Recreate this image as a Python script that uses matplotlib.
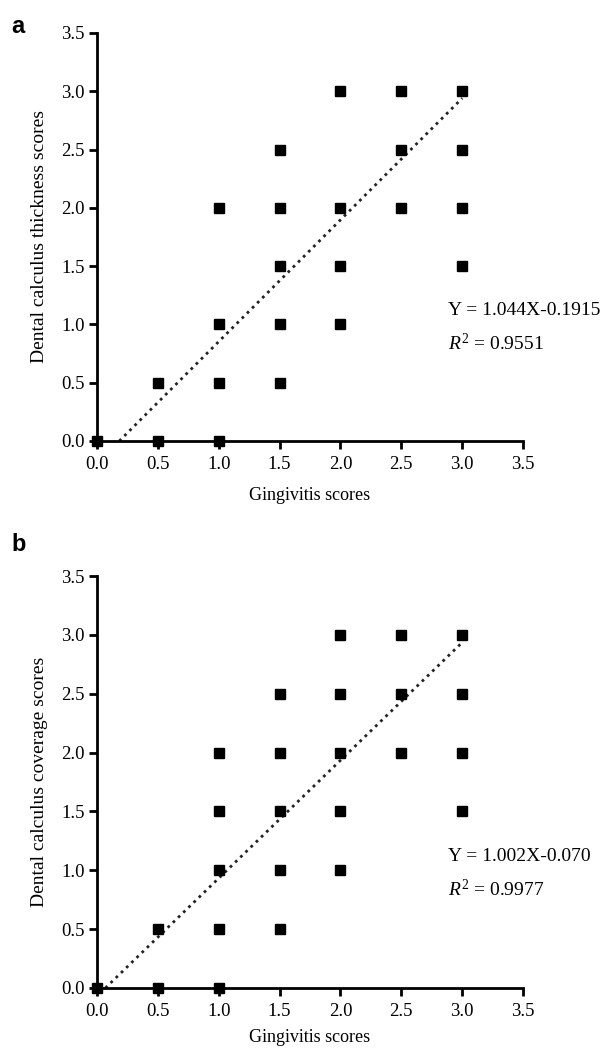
import matplotlib
matplotlib.use("Agg")
import matplotlib.pyplot as plt
import numpy as np

# ── Data ────────────────────────────────────────────────
# panel a: gingivitis vs calculus thickness
gingivitis_a = [0, 0.5, 0.5, 1, 1, 1, 1, 1.5, 1.5, 1.5, 1.5, 1.5,
                2, 2, 2, 2, 2.5, 2.5, 2.5, 3, 3, 3, 3]
thickness_a = [0, 0, 0.5, 0, 0.5, 1, 2, 0.5, 1, 1.5, 2, 2.5,
               1, 1.5, 2, 3, 2, 2.5, 3, 1.5, 2, 2.5, 3]
slope_a, icept_a = 1.044, -0.1915
r2_a = "0.9551"
eq_a = "Y = 1.044X-0.1915"

# panel b: gingivitis vs calculus coverage
gingivitis_b = [0, 0.5, 0.5, 1, 1, 1, 1, 1, 1.5, 1.5, 1.5, 1.5, 1.5,
                2, 2, 2, 2, 2, 2.5, 2.5, 2.5, 3, 3, 3, 3]
coverage_b = [0, 0, 0.5, 0, 0.5, 1, 1.5, 2, 0.5, 1, 1.5, 2, 2.5,
              1, 1.5, 2, 2.5, 3, 2, 2.5, 3, 1.5, 2, 2.5, 3]
slope_b, icept_b = 1.002, -0.070
r2_b = "0.9977"
eq_b = "Y = 1.002X-0.070"

ticks = [0.0, 0.5, 1.0, 1.5, 2.0, 2.5, 3.0, 3.5]

plt.rcParams["font.family"] = ["Liberation Serif", "DejaVu Serif"]
plt.rcParams["mathtext.fontset"] = "custom"
plt.rcParams["mathtext.rm"] = "Liberation Serif"
plt.rcParams["mathtext.it"] = "Liberation Serif:italic"

fig = plt.figure(figsize=(6.02, 10.49), dpi=100)
ax_a = fig.add_axes([0.161, 0.5796, 0.708, 0.389])
ax_b = fig.add_axes([0.161, 0.0582, 0.708, 0.3927])


def draw_panel(ax, x, y, slope, icept, eq, r2, ylabel, letter, letter_y, xpad):
    x0 = -icept / slope
    xs = np.array([x0, 3.0])
    ax.plot(xs, slope * xs + icept, linestyle=(0, (1, 1.6)), color="#222222",
            lw=2.0, zorder=2)
    ax.plot(x, y, "s", color="black", markersize=6.5, clip_on=False, zorder=3)

    ax.set_xlim(0, 3.5)
    ax.set_ylim(0, 3.5)
    ax.set_xticks(ticks)
    ax.set_yticks(ticks)
    ax.set_xticklabels([f"{t:.1f}" for t in ticks])
    ax.set_yticklabels([f"{t:.1f}" for t in ticks])
    ax.tick_params(direction="out", length=6, width=2, labelsize=13.5)
    ax.tick_params(axis="x", pad=5)
    ax.tick_params(axis="y", pad=3)
    for side in ["top", "right"]:
        ax.spines[side].set_visible(False)
    for side in ["left", "bottom"]:
        ax.spines[side].set_linewidth(2)
    ax.set_xlabel("Gingivitis scores", fontsize=13, labelpad=xpad)
    ax.set_ylabel(ylabel, fontsize=14, labelpad=9)

    ax.text(2.88, 1.12, eq, fontsize=14, va="center", ha="left")
    ax.text(2.88, 0.84, r"$R^{2}$ = " + r2, fontsize=14, va="center", ha="left")
    ax.text(-0.2, letter_y, letter, transform=ax.transAxes, fontsize=17,
            fontweight="bold", family=["Liberation Sans", "DejaVu Sans"],
            va="baseline", ha="left")


draw_panel(ax_a, gingivitis_a, thickness_a, slope_a, icept_a, eq_a, r2_a,
           "Dental calculus thickness scores", "a", 1.0, 10)
draw_panel(ax_b, gingivitis_b, coverage_b, slope_b, icept_b, eq_b, r2_b,
           "Dental calculus coverage scores", "b", 1.06, 6)

fig.savefig("out.png", dpi=100)
